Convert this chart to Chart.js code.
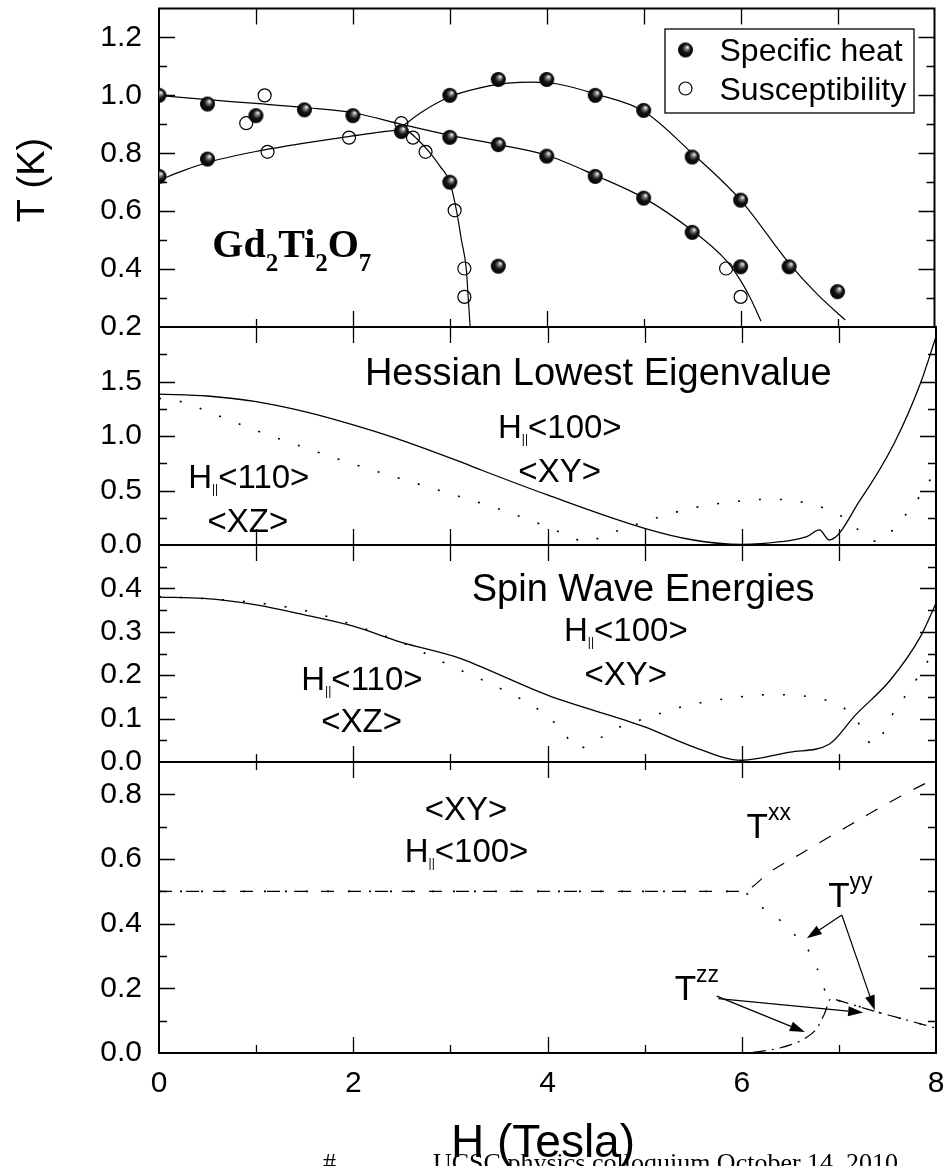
<!DOCTYPE html>
<html>
<head>
<meta charset="utf-8">
<script src="https://cdn.jsdelivr.net/npm/chart.js@4/dist/chart.umd.min.js"></script>
<style>
  html, body { margin: 0; padding: 0; background: #fff; }
  #wrap { position: relative; width: 943px; height: 1166px; overflow: hidden; background: #fff; }
  #wrap canvas { position: absolute; left: 0; top: 0; }
</style>
</head>
<body>
<div id="wrap">
  <canvas id="p1" width="943" height="1166"></canvas>
  <canvas id="p2" width="943" height="1166"></canvas>
  <canvas id="p3" width="943" height="1166"></canvas>
  <canvas id="p4" width="943" height="1166"></canvas>
</div>
<script>
// ---------- Panel 1: Gd2Ti2O7 phase diagram ----------
const heatH = [0, 0, 0.5, 0.5, 1.0, 1.5, 2.0, 2.5, 3.0, 3.0, 3.0, 3.5, 3.5, 3.5, 4.0, 4.0, 4.5, 4.5, 5.0, 5.0, 5.5, 5.5, 6.0, 6.0, 6.5, 7.0];
const heatT = [1.0, 0.72, 0.97, 0.78, 0.93, 0.95, 0.93, 0.875, 1.0, 0.855, 0.70, 1.055, 0.83, 0.41, 1.055, 0.79, 1.0, 0.72, 0.948, 0.645, 0.787, 0.527, 0.638, 0.408, 0.408, 0.322];
const chiH = [0.9, 1.09, 1.12, 1.96, 2.5, 2.62, 2.75, 3.05, 3.15, 3.15, 5.85, 6.0];
const chiT = [0.904, 1.0, 0.805, 0.854, 0.904, 0.854, 0.805, 0.603, 0.402, 0.304, 0.402, 0.304];
const lineAH = [0, 0.5, 1.0, 1.5, 2.0, 2.5, 3.0, 3.5, 4.0, 4.5, 5.0, 5.5, 5.85, 6.0, 6.1, 6.21];
const lineAT = [1.0, 0.985, 0.972, 0.958, 0.94, 0.9, 0.862, 0.83, 0.793, 0.724, 0.646, 0.533, 0.43, 0.36, 0.30, 0.22];
const lineBH = [0, 0.25, 0.5, 1.0, 1.5, 2.0, 2.3, 2.5, 2.58, 2.66, 2.8, 2.9, 3.0, 3.07, 3.12, 3.17, 3.19, 3.21];
const lineBT = [0.707, 0.74, 0.768, 0.806, 0.835, 0.86, 0.874, 0.88, 0.873, 0.85, 0.8, 0.755, 0.70, 0.6, 0.5, 0.4, 0.3, 0.2];
const lineCH = [2.5, 2.7, 3.0, 3.3, 3.6, 3.85, 4.1, 4.5, 5.0, 5.5, 6.0, 6.5, 6.8, 7.08];
const lineCT = [0.89, 0.94, 0.995, 1.025, 1.042, 1.046, 1.04, 1.005, 0.945, 0.8, 0.638, 0.42, 0.31, 0.224];

// ---------- Panel 2: Hessian lowest eigenvalue ----------
const hess100H = [0, 0.5, 1.0, 1.5, 2.0, 2.5, 3.1, 3.3, 4.0, 5.0, 5.5, 6.0, 6.4, 6.67, 6.8, 6.9, 7.22, 7.57, 7.84, 8.0];
const hess100V = [1.385, 1.367, 1.315, 1.223, 1.101, 0.96, 0.764, 0.694, 0.459, 0.153, 0.046, 0.005, 0.03, 0.077, 0.138, 0.046, 0.413, 0.933, 1.483, 1.911];
const hess110H = [0, 0.25, 0.5, 1.0, 1.5, 2.0, 2.5, 3.0, 3.5, 4.0, 4.2, 4.4, 4.6, 5.0, 5.5, 6.0, 6.3, 6.6, 6.9, 7.1, 7.24, 7.38, 7.5, 7.65, 7.83, 7.97];
const hess110V = [1.346, 1.31, 1.225, 1.05, 0.893, 0.742, 0.605, 0.47, 0.33, 0.165, 0.09, 0.03, 0.092, 0.215, 0.34, 0.405, 0.42, 0.397, 0.32, 0.22, 0.107, 0.035, 0.09, 0.236, 0.443, 0.642];

// ---------- Panel 3: spin wave energies ----------
const sw100H = [0, 0.46, 1.0, 1.5, 2.0, 2.48, 3.1, 3.3, 4.0, 5.0, 5.5, 6.0, 6.5, 6.9, 7.17, 7.53, 7.84, 8.0];
const sw100V = [0.38, 0.377, 0.362, 0.339, 0.313, 0.277, 0.239, 0.221, 0.154, 0.081, 0.035, 0.004, 0.023, 0.041, 0.108, 0.189, 0.289, 0.366];
const sw110H = [0, 0.5, 1.0, 1.5, 2.0, 2.5, 3.0, 3.5, 3.95, 4.15, 4.31, 4.53, 4.75, 5.0, 5.4, 5.84, 6.28, 6.5, 6.72, 6.94, 7.16, 7.35, 7.58, 7.74, 7.88, 7.95];
const sw110V = [0.381, 0.376, 0.367, 0.349, 0.316, 0.275, 0.222, 0.171, 0.114, 0.073, 0.031, 0.054, 0.081, 0.1, 0.128, 0.146, 0.155, 0.155, 0.149, 0.137, 0.104, 0.04, 0.12, 0.17, 0.22, 0.245];

// ---------- Panel 4: tensor components ----------
const txxH = [0, 6.0, 6.3, 6.6, 6.9, 7.2, 7.5, 7.8, 8.0];
const txxV = [0.5, 0.5, 0.562, 0.615, 0.668, 0.72, 0.772, 0.82, 0.85];
const tyyH = [0, 6.0, 6.17, 6.35, 6.53, 6.67, 6.77, 6.83, 6.9, 7.0, 7.3, 7.6, 8.0];
const tyyV = [0.5, 0.5, 0.458, 0.422, 0.37, 0.325, 0.267, 0.215, 0.168, 0.162, 0.135, 0.11, 0.077];
const tzzH = [0, 6.0, 6.3, 6.5, 6.65, 6.77, 6.85, 6.92, 7.0, 7.3, 7.6, 8.0];
const tzzV = [0, 0, 0.01, 0.025, 0.045, 0.075, 0.12, 0.168, 0.162, 0.135, 0.11, 0.077];

// ---------- axis ranges ----------
const xRange = [0, 8];
const yRange1 = [0.2, 1.3], yRange2 = [0, 2.0], yRange3 = [0, 0.5], yRange4 = [0, 0.9];

// ---------- layout ----------
const FONT = '"Liberation Sans", Arial, Helvetica, sans-serif';
const SERIF = '"Liberation Serif", "Times New Roman", Times, serif';
const W = 943, H = 1166;
const PLOT_L = 159, PLOT_R = 936;
const edges = [7, 327, 545, 762, 1053];

const pts = (xs, ys) => xs.map((x, i) => ({ x, y: ys[i] }));

// shaded black sphere used for the specific-heat markers
function makeBall(r) {
  const s = Math.ceil(r * 2 + 2);
  const c = document.createElement('canvas');
  c.width = s; c.height = s;
  const g = c.getContext('2d');
  const cx = s / 2, cy = s / 2;
  const grad = g.createRadialGradient(cx + r * 0.3, cy - r * 0.4, 0.2, cx, cy, r);
  grad.addColorStop(0, '#ffffff');
  grad.addColorStop(0.22, '#8a8a8a');
  grad.addColorStop(0.55, '#151515');
  grad.addColorStop(1, '#000000');
  g.fillStyle = grad;
  g.beginPath(); g.arc(cx, cy, r, 0, Math.PI * 2); g.fill();
  return c;
}
const ball = makeBall(7.5);

function curve(xs, ys, dash, width) {
  return {
    data: pts(xs, ys), showLine: true, pointRadius: 0, borderColor: '#000',
    borderWidth: width || 1.2, borderDash: dash || [], fill: false,
    cubicInterpolationMode: 'monotone'
  };
}

function yAxis(range, step, labelStep) {
  const [min, max] = range;
  return {
    type: 'linear', position: 'left', min, max,
    grid: { display: false, drawTicks: false }, border: { display: false },
    ticks: {
      stepSize: step, autoSkip: false, padding: 17, color: '#000',
      font: { family: FONT, size: 30 },
      callback: v => {
        const k = v / labelStep;
        return (Math.abs(k - Math.round(k)) < 1e-6 && v < max - 1e-9) ? v.toFixed(1) : '';
      }
    },
    afterFit: s => { s.width = PLOT_L; s.paddingTop = 0; s.paddingBottom = 0; }
  };
}
function xAxis(showLabels, height) {
  return {
    type: 'linear', position: 'bottom', min: xRange[0], max: xRange[1],
    grid: { display: false, drawTicks: false }, border: { display: false },
    ticks: {
      stepSize: 1, autoSkip: false, display: showLabels, padding: 13, color: '#000',
      maxRotation: 0, minRotation: 0, font: { family: FONT, size: 30 },
      callback: v => (v % 2 === 0 ? String(v) : '')
    },
    afterFit: s => { s.height = height; s.paddingLeft = 0; s.paddingRight = 0; }
  };
}

// frame and inward tick marks of every panel
const frameTicks = {
  id: 'frameTicks',
  beforeDatasetsDraw(chart, args, o) {
    const { ctx, chartArea: a } = chart;
    const xs = chart.scales.x, ys = chart.scales.y;
    ctx.save();
    ctx.strokeStyle = '#000';
    ctx.lineWidth = 1.3;
    ctx.beginPath();
    ys.ticks.forEach(t => {
      const y = Math.round(ys.getPixelForValue(t.value)) + 0.5;
      if (y <= a.top + 2 || y >= a.bottom - 2) return;
      const len = t.label !== '' ? 16 : 8;
      ctx.moveTo(a.left, y); ctx.lineTo(a.left + len, y);
      ctx.moveTo(a.right, y); ctx.lineTo(a.right - len, y);
    });
    xs.ticks.forEach(t => {
      const x = Math.round(xs.getPixelForValue(t.value)) + 0.5;
      if (x <= a.left + 2 || x >= a.right - 2) return;
      const major = t.value % 2 === 0;
      const lt = (o.topAllLong || major) ? 16 : 8;
      const lb = (o.bottomAllLong || major) ? 16 : 8;
      ctx.moveTo(x, a.top); ctx.lineTo(x, a.top + lt);
      ctx.moveTo(x, a.bottom); ctx.lineTo(x, a.bottom - lb);
    });
    ctx.stroke();
    ctx.lineWidth = 2;
    ctx.strokeRect(a.left, a.top, a.right - a.left, a.bottom - a.top);
    ctx.restore();
  }
};

function rich(ctx, x, y, parts) {
  let cx = x;
  ctx.textAlign = 'left';
  ctx.textBaseline = 'alphabetic';
  for (const p of parts) {
    ctx.font = p.f;
    ctx.fillText(p.t, cx, y + (p.dy || 0));
    cx += ctx.measureText(p.t).width;
  }
}
function hPar(ctx, x, y, tail, size) {
  rich(ctx, x, y, [
    { t: 'H', f: `${size}px ${FONT}` },
    { t: '||', f: `${Math.round(size * 0.37)}px ${FONT}`, dy: Math.round(size * 0.16) },
    { t: tail, f: `${size}px ${FONT}` }
  ]);
}
function plain(ctx, x, y, text, size) {
  rich(ctx, x, y, [{ t: text, f: `${size}px ${FONT}` }]);
}
function tLabel(ctx, x, y, sup) {
  rich(ctx, x, y, [
    { t: 'T', f: `35px ${FONT}` },
    { t: sup, f: `23px ${FONT}`, dy: -18 }
  ]);
}
function arrow(ctx, x0, y0, x1, y1) {
  const ang = Math.atan2(y1 - y0, x1 - x0);
  const L = 15, hw = 5;
  const bx = x1 - L * Math.cos(ang), by = y1 - L * Math.sin(ang);
  ctx.beginPath(); ctx.moveTo(x0, y0); ctx.lineTo(bx, by); ctx.stroke();
  ctx.beginPath();
  ctx.moveTo(x1, y1);
  ctx.lineTo(bx + hw * Math.sin(ang), by - hw * Math.cos(ang));
  ctx.lineTo(bx - hw * Math.sin(ang), by + hw * Math.cos(ang));
  ctx.closePath(); ctx.fill();
}

function makePanel(id, idx, yCfg, datasets, tickOpts, draw) {
  const top = edges[idx], bottom = edges[idx + 1];
  const last = idx === 3;
  return new Chart(document.getElementById(id), {
    type: 'scatter',
    data: { datasets },
    options: {
      responsive: false, animation: false, devicePixelRatio: 1, events: [],
      layout: { padding: { left: 0, right: W - PLOT_R, top, bottom: last ? 0 : H - bottom } },
      scales: { x: xAxis(last, last ? H - bottom : 0), y: yCfg },
      plugins: { legend: { display: false }, tooltip: { enabled: false }, frameTicks: tickOpts }
    },
    plugins: [frameTicks, { id: 'notes' + idx, afterDraw: draw }]
  });
}

// ---------- Panel 1 ----------
makePanel('p1', 0, yAxis(yRange1, 0.1, 0.2), [
  { label: 'Specific heat', data: pts(heatH, heatT), pointStyle: ball, pointRadius: 7.5, showLine: false },
  { label: 'Susceptibility', data: pts(chiH, chiT), pointStyle: 'circle', pointRadius: 6.5,
    pointBackgroundColor: 'rgba(0,0,0,0)', pointBorderColor: '#000', pointBorderWidth: 1.2, showLine: false },
  curve(lineAH, lineAT), curve(lineBH, lineBT), curve(lineCH, lineCT)
], { topAllLong: true, bottomAllLong: false }, chart => {
  const ctx = chart.ctx;
  const xs = chart.scales.x, ys = chart.scales.y;
  ctx.save();
  ctx.fillStyle = '#000';
  // vertical axis title
  ctx.save();
  ctx.translate(34, 180);
  ctx.rotate(-Math.PI / 2);
  ctx.font = `38px ${FONT}`;
  ctx.textAlign = 'center'; ctx.textBaseline = 'middle';
  ctx.fillText('T (K)', 0, 0);
  ctx.restore();
  // compound formula
  const gx = xs.getPixelForValue(0.55), gy = ys.getPixelForValue(0.441);
  const big = `bold 40px ${SERIF}`, sub = `bold 25px ${SERIF}`;
  rich(ctx, gx, gy, [
    { t: 'Gd', f: big }, { t: '2', f: sub, dy: 14 },
    { t: 'Ti', f: big }, { t: '2', f: sub, dy: 14 },
    { t: 'O', f: big }, { t: '7', f: sub, dy: 14 }
  ]);
  // legend
  const a = chart.chartArea;
  const bx = a.right - 270, by = a.top + 20;
  ctx.lineWidth = 1.3; ctx.strokeStyle = '#000';
  ctx.strokeRect(bx + 0.5, by + 0.5, 249, 84);
  ctx.drawImage(ball, bx + 21 - ball.width / 2, by + 21.5 - ball.height / 2);
  ctx.beginPath(); ctx.arc(bx + 21, by + 60, 6.5, 0, Math.PI * 2); ctx.lineWidth = 1.2; ctx.stroke();
  plain(ctx, bx + 55, by + 32, 'Specific heat', 32);
  plain(ctx, bx + 55, by + 71, 'Susceptibility', 32);
  ctx.restore();
});

// ---------- Panel 2 ----------
makePanel('p2', 1, yAxis(yRange2, 0.25, 0.5), [
  curve(hess100H, hess100V, [], 1.3),
  curve(hess110H, hess110V, [2, 19], 1.6)
], { topAllLong: true, bottomAllLong: true }, chart => {
  const ctx = chart.ctx;
  const X = v => chart.scales.x.getPixelForValue(v), Y = v => chart.scales.y.getPixelForValue(v);
  ctx.save(); ctx.fillStyle = '#000';
  plain(ctx, X(2.12), Y(1.468), 'Hessian Lowest Eigenvalue', 38);
  hPar(ctx, X(3.49), Y(0.979), '<100>', 33);
  plain(ctx, X(3.70), Y(0.581), '<XY>', 33);
  hPar(ctx, X(0.30), Y(0.52), '<110>', 33);
  plain(ctx, X(0.50), Y(0.122), '<XZ>', 33);
  ctx.restore();
});

// ---------- Panel 3 ----------
makePanel('p3', 2, yAxis(yRange3, 0.05, 0.1), [
  curve(sw100H, sw100V, [], 1.3),
  curve(sw110H, sw110V, [2, 19], 1.6)
], { topAllLong: true, bottomAllLong: false }, chart => {
  const ctx = chart.ctx;
  const X = v => chart.scales.x.getPixelForValue(v), Y = v => chart.scales.y.getPixelForValue(v);
  ctx.save(); ctx.fillStyle = '#000';
  plain(ctx, X(3.22), Y(0.37), 'Spin Wave Energies', 38);
  hPar(ctx, X(4.17), Y(0.278), '<100>', 33);
  plain(ctx, X(4.38), Y(0.178), '<XY>', 33);
  hPar(ctx, X(1.465), Y(0.166), '<110>', 33);
  plain(ctx, X(1.67), Y(0.07), '<XZ>', 33);
  ctx.restore();
});

// ---------- Panel 4 ----------
makePanel('p4', 3, yAxis(yRange4, 0.1, 0.2), [
  curve(txxH, txxV, [13, 14], 1.2),
  curve(tyyH, tyyV, [2, 19], 1.6),
  curve(tzzH, tzzV, [13, 6, 2, 6], 1.2)
], { topAllLong: false, bottomAllLong: false }, chart => {
  const ctx = chart.ctx;
  const X = v => chart.scales.x.getPixelForValue(v), Y = v => chart.scales.y.getPixelForValue(v);
  ctx.save(); ctx.fillStyle = '#000'; ctx.strokeStyle = '#000'; ctx.lineWidth = 1.2;
  plain(ctx, X(2.735), Y(0.7215), '<XY>', 33);
  hPar(ctx, X(2.53), Y(0.592), '<100>', 33);
  tLabel(ctx, X(6.05), Y(0.666), 'xx');
  tLabel(ctx, X(6.89), Y(0.453), 'yy');
  tLabel(ctx, X(5.31), Y(0.163), 'zz');
  arrow(ctx, X(7.03), Y(0.427), X(6.67), Y(0.355));
  arrow(ctx, X(7.03), Y(0.427), X(7.37), Y(0.132));
  arrow(ctx, X(5.742), Y(0.176), X(6.65), Y(0.065));
  arrow(ctx, X(5.76), Y(0.168), X(7.25), Y(0.125));
  // horizontal axis title
  ctx.font = `46px ${FONT}`;
  ctx.textAlign = 'left'; ctx.textBaseline = 'alphabetic';
  ctx.fillText('H (Tesla)', 451, 1157);
  // footer line
  ctx.font = `26px ${SERIF}`;
  ctx.fillText('#', 323, 1171);
  ctx.fillText('UCSC physics colloquium October 14, 2010', 433, 1171);
  ctx.restore();
});
</script>
</body>
</html>
